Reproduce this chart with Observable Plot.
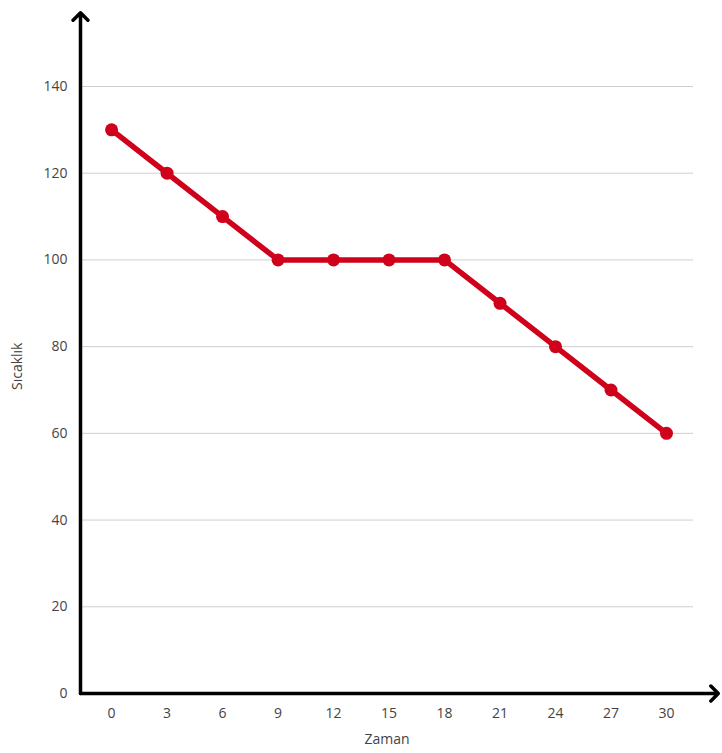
<!DOCTYPE html>
<html>
<head>
<meta charset="utf-8">
<script src="https://cdn.jsdelivr.net/npm/d3@7"></script>
<script src="https://cdn.jsdelivr.net/npm/@observablehq/plot@0.6"></script>
<style>
  html, body { margin: 0; padding: 0; background: #fff; }
  #chart svg { display: block; }
</style>
</head>
<body>
<div id="chart"></div>
<script>
const zaman = [0, 3, 6, 9, 12, 15, 18, 21, 24, 27, 30];
const sicaklik = [130, 120, 110, 100, 100, 100, 100, 90, 80, 70, 60];
const yTicks = [0, 20, 40, 60, 80, 100, 120, 140];
const gridTicks = [20, 40, 60, 80, 100, 120, 140];
const xLabel = "Zaman";
const yLabel = "Sıcaklık";

const data = zaman.map((z, i) => ({ z, s: sicaklik[i] }));

const xMin = -1.68, xMax = 31.46, xArrow = 32.8;
const yArrow = 157;

const chart = Plot.plot({
  width: 722,
  height: 753,
  marginLeft: 80,
  marginRight: 29,
  marginTop: 86,
  marginBottom: 60,
  style: { fontFamily: "'Open Sans', sans-serif", fontSize: "14px", color: "#444", background: "#fff", overflow: "visible" },
  x: { domain: [xMin, xMax] },
  y: { domain: [0, 140] },
  marks: [
    Plot.ruleY(gridTicks, { x1: xMin + 0.1, x2: xMax, stroke: "#cfcfcf", strokeWidth: 1 }),
    Plot.axisX(zaman, { tickSize: 0, tickPadding: 15, label: null, fill: "#444", fontSize: 14 }),
    Plot.axisY(yTicks, { tickSize: 0, tickPadding: 13, label: null, fill: "#444", fontSize: 14 }),
    Plot.arrow([{ }], { x1: xMin, y1: 0, x2: xArrow, y2: 0, stroke: "black", strokeWidth: 3.5, headLength: 4.5, headAngle: 90 }),
    Plot.arrow([{ }], { x1: xMin, y1: 0, x2: xMin, y2: yArrow, stroke: "black", strokeWidth: 3.5, headLength: 4.5, headAngle: 90 }),
    Plot.line(data, { x: "z", y: "s", stroke: "#d0021b", strokeWidth: 5.5 }),
    Plot.dot(data, { x: "z", y: "s", r: 6.5, fill: "#d0021b" }),
    Plot.text([xLabel], { frameAnchor: "bottom", dy: 50, text: d => d, fill: "#444", fontSize: 14 }),
    Plot.text([yLabel], { frameAnchor: "left", dx: -63, rotate: -90, text: d => d, fill: "#444", fontSize: 14 })
  ]
});
document.getElementById("chart").appendChild(chart);
</script>
</body>
</html>
